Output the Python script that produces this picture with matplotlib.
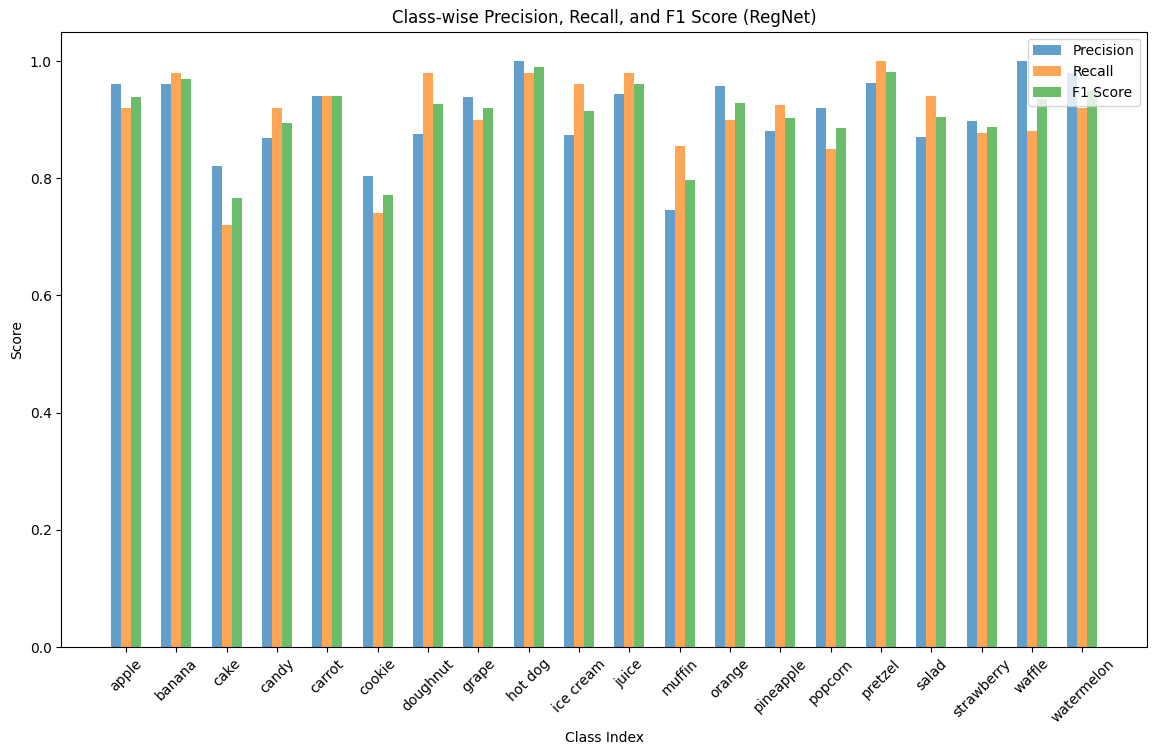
import numpy as np
import matplotlib
matplotlib.use("Agg")
import matplotlib.pyplot as plt

# per-class scores
classes = ["apple", "banana", "cake", "candy", "carrot", "cookie", "doughnut", "grape",
           "hot dog", "ice cream", "juice", "muffin", "orange", "pineapple", "popcorn",
           "pretzel", "salad", "strawberry", "waffle", "watermelon"]
precision = [0.960, 0.961, 0.820, 0.869, 0.940, 0.804, 0.876, 0.939, 1.000, 0.874,
             0.943, 0.746, 0.958, 0.881, 0.920, 0.963, 0.871, 0.897, 1.000, 0.980]
recall = [0.92, 0.98, 0.72, 0.92, 0.94, 0.74, 0.98, 0.90, 0.98, 0.96,
          0.98, 0.855, 0.90, 0.925, 0.85, 1.00, 0.94, 0.878, 0.88, 0.92]
f1 = [0.939, 0.970, 0.767, 0.895, 0.940, 0.772, 0.926, 0.919, 0.990, 0.915,
      0.961, 0.797, 0.929, 0.903, 0.885, 0.981, 0.905, 0.888, 0.936, 0.949]

x = np.arange(len(classes))
width = 0.2

fig, ax = plt.subplots(figsize=(11.56, 7.55), dpi=100)
ax.bar(x - width, precision, width, label="Precision", alpha=0.7)
ax.bar(x, recall, width, label="Recall", alpha=0.7)
ax.bar(x + width, f1, width, label="F1 Score", alpha=0.7)

ax.set_xlabel("Class Index")
ax.set_ylabel("Score")
ax.set_title("Class-wise Precision, Recall, and F1 Score (RegNet)")
ax.set_xticks(x)
ax.set_xticklabels(classes, rotation=45)
ax.legend()

fig.subplots_adjust(left=0.0532, right=0.992, top=0.958, bottom=0.143)
fig.savefig("out.png", dpi=100)
